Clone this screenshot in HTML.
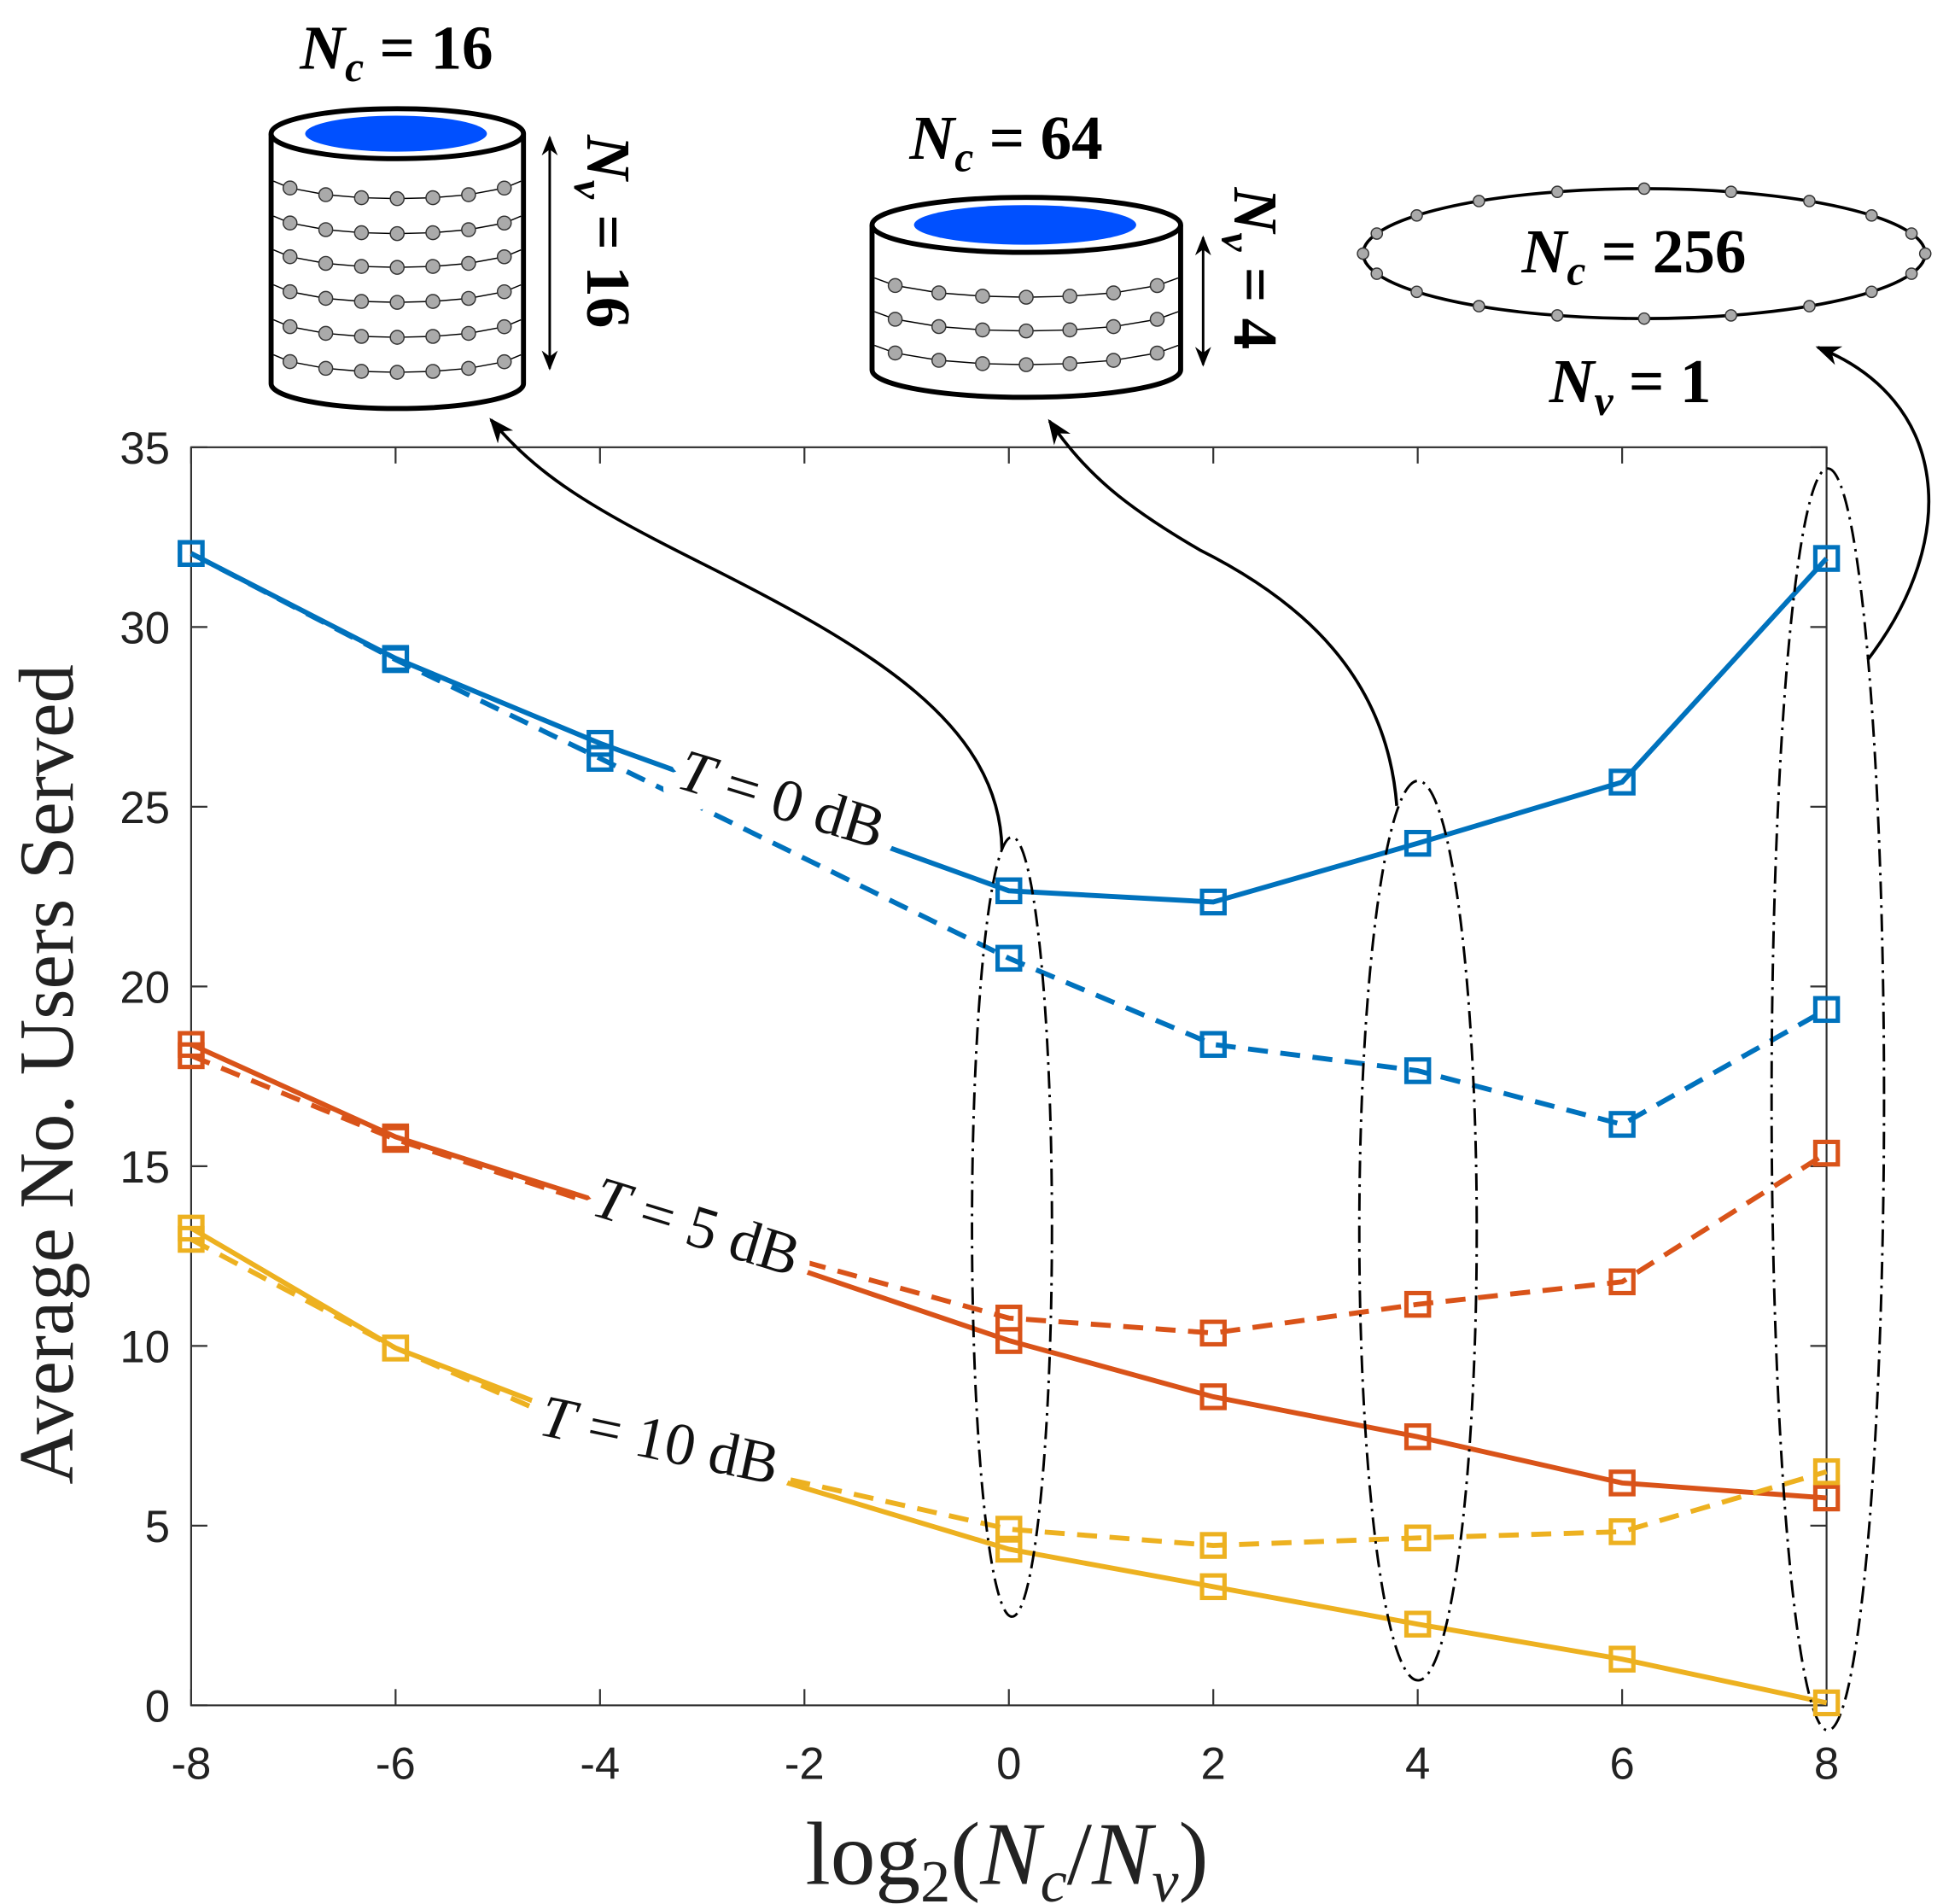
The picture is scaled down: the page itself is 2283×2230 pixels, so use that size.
<!DOCTYPE html><html><head><style>body{margin:0;background:#fff}svg{display:block}</style></head><body>
<svg id="s" width="2283" height="2230" viewBox="0 0 1560 1524" preserveAspectRatio="none" xmlns="http://www.w3.org/2000/svg" font-family="Liberation Sans, sans-serif">
<defs><marker id="ar" viewBox="0 0 10 10" refX="9" refY="5" markerWidth="8" markerHeight="8" orient="auto-start-reverse"><path d="M0,1 L10,5 L0,9 L3,5Z" fill="#000"/></marker></defs>
<rect x="153" y="358" width="1309" height="1007" fill="none" stroke="#333" stroke-width="1.5"/>
<g id="ticks" stroke="#333" stroke-width="1.5"></g>
<g font-size="36" fill="#222" text-anchor="end" id="yl"></g>
<g font-size="36" fill="#222" text-anchor="middle" id="xl"></g>
<text x="806" y="1508" font-family="Liberation Serif, serif" font-size="72" text-anchor="middle" fill="#222">log<tspan font-size="48" dy="14">2</tspan><tspan dy="-14">(</tspan><tspan font-style="italic">N</tspan><tspan font-size="48" dy="14" font-style="italic">c</tspan><tspan dy="-14">/</tspan><tspan font-style="italic">N</tspan><tspan font-size="48" dy="14" font-style="italic">v</tspan><tspan dy="-14">)</tspan></text>
<text transform="translate(58,860) rotate(-90)" font-family="Liberation Serif, serif" font-size="62" text-anchor="middle" fill="#222">Average No.  Users Served</text>
<g id="series" fill="none" stroke-width="4"></g>
<g font-family="Liberation Serif, serif" font-size="48" fill="#111" stroke="#fff" stroke-width="26" paint-order="stroke" stroke-linejoin="round">
<text transform="translate(540,630) rotate(17)"><tspan font-style="italic">T</tspan> = 0 dB</text>
<text transform="translate(472,972) rotate(17)"><tspan font-style="italic">T</tspan> = 5 dB</text>
<text transform="translate(430,1148) rotate(12)"><tspan font-style="italic">T</tspan> = 10 dB</text>
</g>
<g fill="none" stroke="#000" stroke-width="2" stroke-dasharray="14,5,2,5">
<ellipse cx="810" cy="982" rx="32" ry="312"/>
<ellipse cx="1135" cy="985" rx="47" ry="360"/>
<ellipse cx="1463" cy="880" rx="45" ry="505"/>
</g>
<g fill="none" stroke="#000" stroke-width="2.5">
<path d="M802,680 C800,580 700,520 560,450 C470,405 430,380 393,336" marker-end="url(#ar)"/>
<path d="M1118,645 C1110,540 1040,480 960,440 C900,405 870,380 840,337" marker-end="url(#ar)"/>
<path d="M1495,528 C1570,430 1560,320 1455,278" marker-end="url(#ar)"/>
</g>
<g id="cyl"></g>
<g font-family="Liberation Serif, serif" font-size="50" font-weight="bold" fill="#000">
<text x="240" y="55"><tspan font-style="italic">N</tspan><tspan font-size="34" dy="10" font-style="italic">c</tspan><tspan dy="-10"> = 16</tspan></text>
<text x="728" y="127"><tspan font-style="italic">N</tspan><tspan font-size="34" dy="10" font-style="italic">c</tspan><tspan dy="-10"> = 64</tspan></text>
<text x="1218" y="218"><tspan font-style="italic">N</tspan><tspan font-size="34" dy="10" font-style="italic">c</tspan><tspan dy="-10"> = 256</tspan></text>
<text x="1240" y="322"><tspan font-style="italic">N</tspan><tspan font-size="34" dy="10" font-style="italic">v</tspan><tspan dy="-10"> = 1</tspan></text>
<text transform="translate(470,108) rotate(90)"><tspan font-style="italic">N</tspan><tspan font-size="34" dy="10" font-style="italic">v</tspan><tspan dy="-10"> = 16</tspan></text>
<text transform="translate(988,150) rotate(90)"><tspan font-style="italic">N</tspan><tspan font-size="34" dy="10" font-style="italic">v</tspan><tspan dy="-10"> = 4</tspan></text>
</g>
<g stroke="#000" stroke-width="2">
<line x1="440" y1="110" x2="440" y2="295" marker-start="url(#ar)" marker-end="url(#ar)"/>
<line x1="963" y1="190" x2="963" y2="292" marker-start="url(#ar)" marker-end="url(#ar)"/>
</g>
</svg>
<script>
const NS="http://www.w3.org/2000/svg",s=document.getElementById('s');
function el(p,t,a,txt,before){const e=document.createElementNS(NS,t);for(const k in a)e.setAttribute(k,a[k]);if(txt!=null)e.textContent=txt;document.getElementById(p).appendChild(e);return e;}
const X=v=>153+(v+8)*1309/16, Y=v=>1365-v*1007/35;
for(let v=0;v<=35;v+=5){el('yl','text',{x:136,y:Y(v)+13},v);el('ticks','line',{x1:153,y1:Y(v),x2:166,y2:Y(v)});el('ticks','line',{x1:1462,y1:Y(v),x2:1449,y2:Y(v)});}
for(let v=-8;v<=8;v+=2){el('xl','text',{x:X(v),y:1424},v);el('ticks','line',{x1:X(v),y1:1365,x2:X(v),y2:1352});el('ticks','line',{x1:X(v),y1:358,x2:X(v),y2:371});}
const xs=[-8,-6,-4,0,2,4,6,8];
const S=[["#0072BD",[443,527,595,713,722,675,626,447],""],["#0072BD",[443,528,607,767,836,857,900,808],"16,10"],
["#D95319",[836,910,962,1073,1118,1150,1187,1199],""],["#D95319",[845,912,965,1055,1067,1044,1026,923],"16,10"],
["#EDB120",[983,1079,1142,1240,1270,1300,1328,1363],""],["#EDB120",[992,1079,1150,1224,1237,1231,1226,1178],"16,10"]];
const sq=[];
for(const [c,ys,d] of S){el('series','polyline',{points:xs.map((x,i)=>X(x)+','+ys[i]).join(' '),stroke:c,'stroke-dasharray':d});
xs.forEach((x,i)=>{if(x!==-4)sq.push([X(x),ys[i],c]);});}
function cyl(x1,x2,top,bot,ry,rows){const cx=(x1+x2)/2,rx=(x2-x1)/2;
el('cyl','path',{d:`M${x1},${top} L${x1},${bot} A${rx},${ry} 0 0 0 ${x2},${bot} L${x2},${top}`,fill:'#fff',stroke:'#000','stroke-width':4});
el('cyl','ellipse',{cx,cy:top,rx,ry,fill:'#fff',stroke:'#000','stroke-width':4});
el('cyl','ellipse',{cx:cx-1,cy:top,rx:rx*0.72,ry:ry*0.72,fill:'#0050ff'});
rows.forEach(y=>{const pts=[];for(let k=0;k<7;k++){const t=-0.85+k*0.283;pts.push([cx+rx*t,y+ry*0.9*Math.sqrt(1-t*t)-ry*0.9*0.5]);}
el('cyl','path',{d:`M${x1+2},${y-ry*0.25} `+pts.map(p=>'L'+p[0]+','+p[1]).join(' ')+` L${x2-2},${y-ry*0.25}`,fill:'none',stroke:'#000','stroke-width':1});
pts.forEach(p=>el('cyl','circle',{cx:p[0],cy:p[1],r:5.5,fill:'#aaa',stroke:'#333','stroke-width':1}));});}
cyl(217,419,107,307,20,[150,178,205,233,261,289]);
cyl(698,945,180,296,22,[228,255,282]);
el('cyl','ellipse',{cx:1316,cy:203,rx:225,ry:52,fill:'none',stroke:'#000','stroke-width':2.5});
for(let k=0;k<20;k++){const a=k/20*2*Math.PI;el('cyl','circle',{cx:1316+225*Math.cos(a),cy:203+52*Math.sin(a),r:4.5,fill:'#aaa',stroke:'#333','stroke-width':1});}
// markers on top (incl -4 for blue/red/yellow that are visible)
[[X(-4),595,"#0072BD"],[X(-4),607,"#0072BD"]].forEach(p=>sq.push(p));
const g=document.createElementNS(NS,'g');g.setAttribute('id','mk');g.setAttribute('fill','none');s.appendChild(g);
sq.forEach(([x,y,c])=>el('mk','rect',{x:x-9,y:y-9,width:18,height:18,stroke:c,'stroke-width':3.5}));
</script>
</body></html>
